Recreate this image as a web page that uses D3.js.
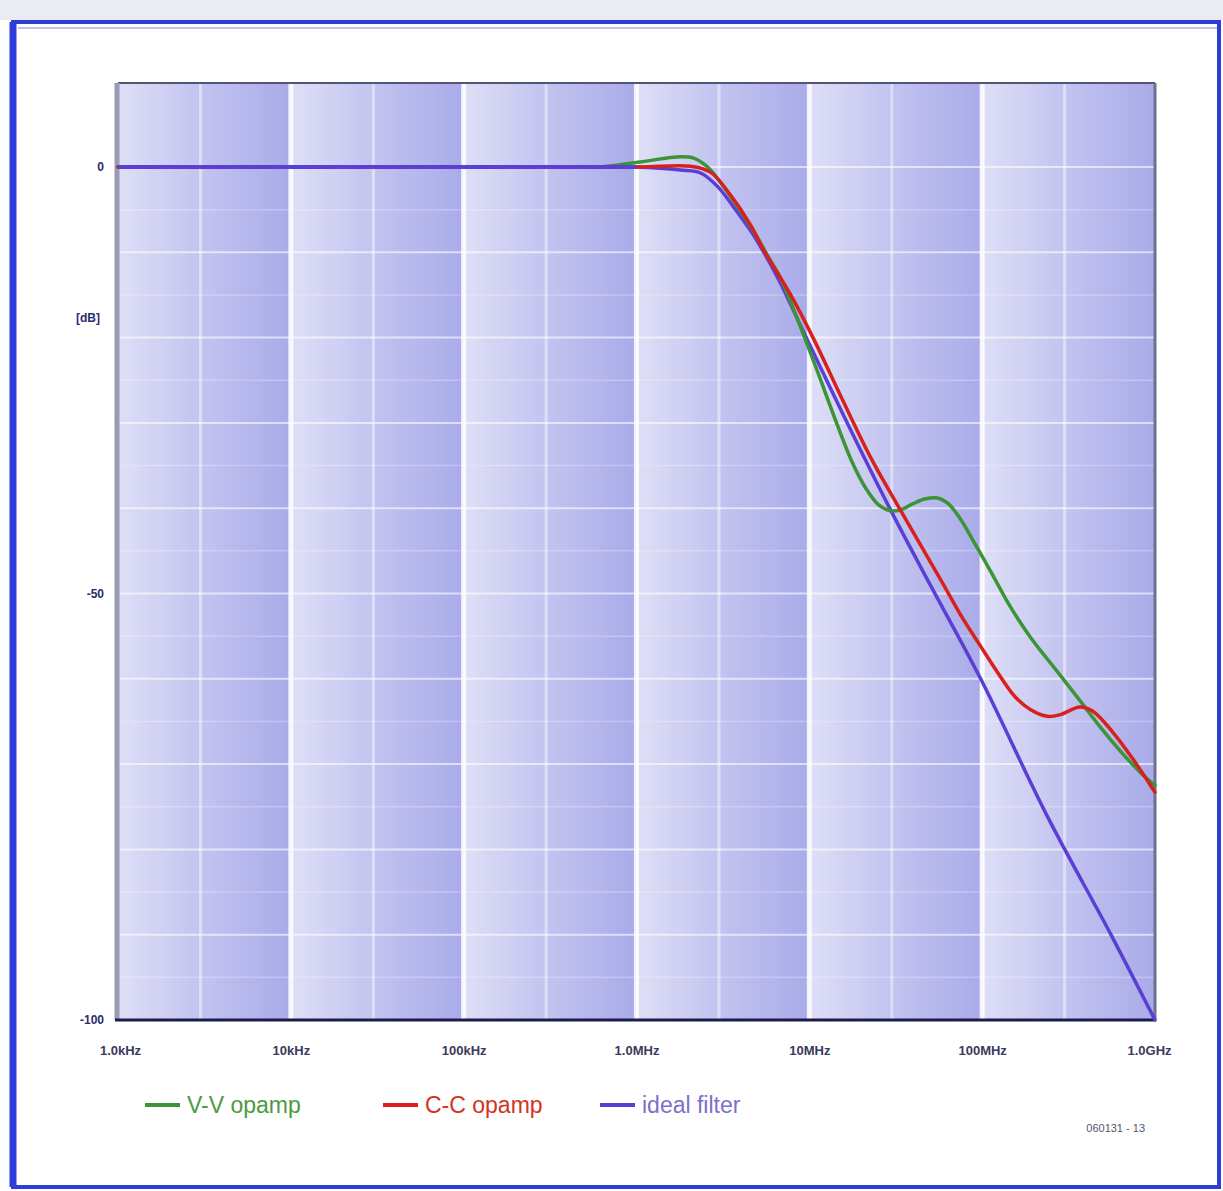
<!DOCTYPE html>
<html><head><meta charset="utf-8">
<script src="https://cdn.jsdelivr.net/npm/d3@7"></script>
<style>body{margin:0;background:#fff;} svg{display:block;}</style>
</head><body>
<svg id="chart" width="1223" height="1191"></svg>
<script>
// ---- data (frequency in MHz, gain in dB) ----
const xTickValues = [0.001, 0.01, 0.1, 1, 10, 100, 1000];
const xTickLabels = ["1.0kHz", "10kHz", "100kHz", "1.0MHz", "10MHz", "100MHz", "1.0GHz"];
const yTickValues = [0, -50, -100];
const yTickLabels = ["0", "-50", "-100"];
const seriesNames = ["V-V opamp", "C-C opamp", "ideal filter"];

const vvFreq = [0.001, 0.01, 0.1, 0.4, 0.62, 1.05, 1.8, 2.14, 2.58, 3.19, 4.0, 4.88, 5.73, 6.81, 8.66, 11.16, 14.37, 17.78, 21.43, 25.15, 29.5, 33.7, 39.6, 47.0, 55.2, 63.9, 75.0, 91.6, 112, 146, 190.6, 266, 371, 484, 632, 825, 1000];
const vvGain = [0, 0, 0, 0, 0, 0.6, 1.2, 1.05, 0, -2.3, -5.15, -7.85, -10.4, -13.0, -18.15, -24.0, -30.0, -34.7, -37.8, -39.6, -40.3, -40.2, -39.5, -38.9, -38.8, -39.5, -41.3, -44.3, -47.4, -51.6, -55.15, -58.9, -62.65, -65.7, -68.5, -71.0, -72.5];

const ccFreq = [0.001, 0.01, 0.1, 0.5, 1.05, 2.05, 2.68, 3.5, 4.57, 5.43, 7.8, 10.5, 15.36, 22.7, 33.6, 57.6, 75.0, 98, 127, 155, 190, 238, 283, 368, 437, 572, 745, 1000];
const ccGain = [0, 0, 0, 0, 0, 0.1, -0.6, -3.3, -6.8, -9.7, -15.0, -20.0, -27.05, -34.1, -40.2, -48.4, -52.5, -56.2, -59.7, -62.1, -63.6, -64.4, -64.2, -63.3, -63.8, -66.3, -69.4, -73.3];

const idealFreq = [0.001, 0.01, 0.1, 0.5, 1.0, 1.8, 2.35, 2.95, 3.65, 4.55, 5.35, 6.8, 8.9, 16.2, 29.5, 48.3, 98, 238, 553, 1000];
const idealGain = [0, 0, 0, 0, 0, -0.35, -0.7, -2.3, -4.7, -7.4, -9.7, -13.6, -18.6, -29.6, -40.2, -48.4, -60.0, -76.1, -89.9, -100];

// ---- layout ----
const svg = d3.select("#chart");
const L = 118, R = 1155, T = 83, B = 1020;
const x = d3.scaleLog().domain([0.001, 1000]).range([L, R]);
const y = d3.scaleLinear().domain([-100, 9.85]).range([B, T]);

// page background and outer frame
svg.append("rect").attr("x", 0).attr("y", 0).attr("width", 1223).attr("height", 1191).attr("fill", "#fdfdff");
svg.append("rect").attr("x", 0).attr("y", 0).attr("width", 1223).attr("height", 20).attr("fill", "#ebebf3");
svg.append("rect").attr("x", 13).attr("y", 22).attr("width", 1206).attr("height", 1165)
  .attr("fill", "#ffffff").attr("stroke", "#2b3fd8").attr("stroke-width", 4);
svg.append("line").attr("x1", 13).attr("x2", 13).attr("y1", 22).attr("y2", 1187)
  .attr("stroke", "#2b3fd8").attr("stroke-width", 7);
svg.append("line").attr("x1", 18).attr("x2", 1217).attr("y1", 28).attr("y2", 28)
  .attr("stroke", "#7d88e0").attr("stroke-width", 1);

// plot background: gradient bands per decade
const defs = svg.append("defs");
const grad = defs.append("linearGradient").attr("id", "band").attr("x1", "0").attr("x2", "1").attr("y1", "0").attr("y2", "0");
grad.append("stop").attr("offset", "0%").attr("stop-color", "#dedff6");
grad.append("stop").attr("offset", "45%").attr("stop-color", "#c4c5f0");
grad.append("stop").attr("offset", "100%").attr("stop-color", "#a9abe9");
const decades = d3.range(0, 6).map(i => [xTickValues[i], xTickValues[i + 1]]);
svg.append("g").selectAll("rect").data(decades).join("rect")
  .attr("x", d => x(d[0])).attr("y", T)
  .attr("width", d => x(d[1]) - x(d[0])).attr("height", B - T)
  .attr("fill", "url(#band)");

// grid
const g = svg.append("g");
const minorX = [];
decades.forEach(d => minorX.push(d[0] * 3));
g.selectAll("line.vmin").data(minorX).join("line")
  .attr("x1", d => x(d)).attr("x2", d => x(d)).attr("y1", T).attr("y2", B)
  .attr("stroke", "#ffffff").attr("stroke-opacity", 0.45).attr("stroke-width", 3);
g.selectAll("line.vmaj").data(xTickValues.slice(1, 6)).join("line")
  .attr("x1", d => x(d)).attr("x2", d => x(d)).attr("y1", T).attr("y2", B)
  .attr("stroke", "#ffffff").attr("stroke-opacity", 0.85).attr("stroke-width", 5);
const hLines = d3.range(-90, 10, 10);
g.selectAll("line.h").data(hLines).join("line")
  .attr("x1", L).attr("x2", R).attr("y1", d => y(d)).attr("y2", d => y(d))
  .attr("stroke", "#ffffff").attr("stroke-opacity", 0.6).attr("stroke-width", 2);
const hMinor = d3.range(-95, 5, 10);
g.selectAll("line.hm").data(hMinor).join("line")
  .attr("x1", L).attr("x2", R).attr("y1", d => y(d)).attr("y2", d => y(d))
  .attr("stroke", "#ffffff").attr("stroke-opacity", 0.25).attr("stroke-width", 1.5);

// plot frame
svg.append("line").attr("x1", L).attr("x2", R).attr("y1", T).attr("y2", T).attr("stroke", "#55557a").attr("stroke-width", 2);
svg.append("line").attr("x1", R).attr("x2", R).attr("y1", T).attr("y2", B).attr("stroke", "#6f7090").attr("stroke-width", 3);
svg.append("line").attr("x1", L - 1).attr("x2", L - 1).attr("y1", T).attr("y2", B).attr("stroke", "#9a9ab4").attr("stroke-width", 5);
svg.append("line").attr("x1", L - 3).attr("x2", R + 1).attr("y1", B).attr("y2", B).attr("stroke", "#1c1c4a").attr("stroke-width", 3);

// curves
const series = [
  {name: seriesNames[2], f: idealFreq, v: idealGain, color: "#5b3fd4", text: "#7b70cc"},
  {name: seriesNames[1], f: ccFreq, v: ccGain, color: "#d8201c", text: "#d23322"},
  {name: seriesNames[0], f: vvFreq, v: vvGain, color: "#3b9436", text: "#4c9a40"}
];
const line = d3.line().x(d => x(d[0])).y(d => y(d[1])).curve(d3.curveCatmullRom.alpha(0.5));
const drawOrder = [series[0], series[2], series[1]];
svg.append("g").selectAll("path").data(drawOrder).join("path")
  .attr("d", s => line(s.f.map((f, i) => [f, s.v[i]])))
  .attr("fill", "none").attr("stroke", s => s.color).attr("stroke-width", 3.5)
  .attr("stroke-linejoin", "round").attr("stroke-linecap", "round");
// purple drawn over flat region so it dominates at 0 dB
svg.append("path").attr("d", line(idealFreq.slice(0, 5).map((f, i) => [f, idealGain[i]])))
  .attr("fill", "none").attr("stroke", "#5b3fd4").attr("stroke-width", 4);

// axes labels
const yAxis = d3.axisLeft(y).tickValues(yTickValues).tickFormat((d, i) => yTickLabels[i]).tickSize(0).tickPadding(14);
const ya = svg.append("g").attr("transform", `translate(${L},0)`).call(yAxis);
ya.select(".domain").remove();
ya.selectAll("text").attr("font-family", "Liberation Sans, Arial, sans-serif").attr("font-size", 12)
  .attr("font-weight", "bold").attr("fill", "#2c2c6c");
svg.append("text").attr("x", 100).attr("y", 322).attr("text-anchor", "end")
  .attr("font-family", "Liberation Sans, Arial, sans-serif").attr("font-size", 12).attr("font-weight", "bold")
  .attr("fill", "#2c2c6c").text("[dB]");

const xAxis = d3.axisBottom(x).tickValues(xTickValues).tickFormat((d, i) => xTickLabels[i]).tickSize(0).tickPadding(26);
const xa = svg.append("g").attr("transform", `translate(0,${B})`).call(xAxis);
xa.select(".domain").remove();
xa.selectAll("text").attr("font-family", "Liberation Sans, Arial, sans-serif").attr("font-size", 13)
  .attr("font-weight", "bold").attr("fill", "#3a3a5a")
  .attr("dx", (d, i) => i === 6 ? -6 : (i === 0 ? 2 : 0));

// legend
const legendX = [145, 383, 600];
const legend = svg.append("g");
[series[2], series[1], series[0]].forEach((s, i) => {
  legend.append("line").attr("x1", legendX[i]).attr("x2", legendX[i] + 35).attr("y1", 1105).attr("y2", 1105)
    .attr("stroke", s.color).attr("stroke-width", 4);
  legend.append("text").attr("x", legendX[i] + 42).attr("y", 1113)
    .attr("font-family", "Liberation Sans, Arial, sans-serif").attr("font-size", 23)
    .attr("fill", s.text).text(s.name);
});

// figure id
svg.append("text").attr("x", 1145).attr("y", 1132).attr("text-anchor", "end")
  .attr("font-family", "Liberation Sans, Arial, sans-serif").attr("font-size", 11)
  .attr("fill", "#55556a").text("060131 - 13");
</script>
</body></html>
